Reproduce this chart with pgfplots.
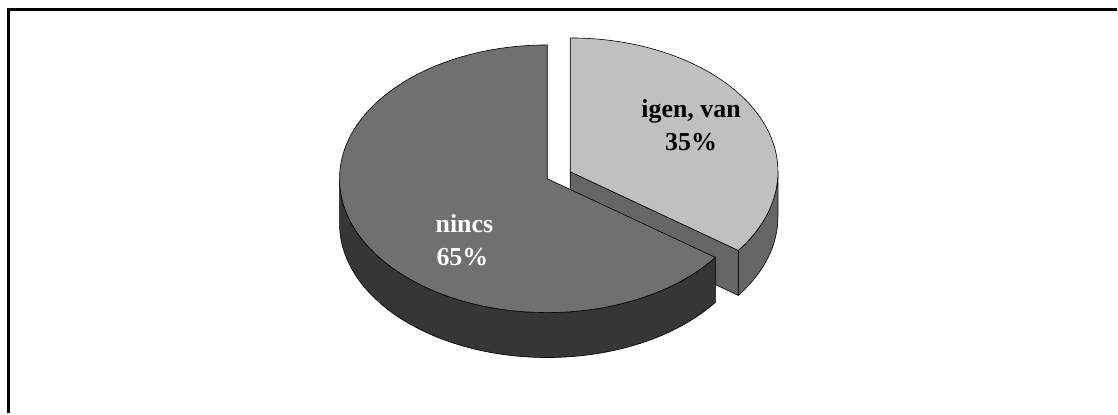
\documentclass[border=0pt]{standalone}
\usepackage{fontspec}
\setmainfont{Liberation Serif}
\usepackage{pgfplots}
\pgfplotsset{compat=1.18}
\usepackage{pgfplotstable}
\definecolor{topMain}{RGB}{112,112,112}
\definecolor{sideMain}{RGB}{54,54,54}
\definecolor{topOut}{RGB}{192,192,192}
\definecolor{sideOut}{RGB}{102,102,102}

% pie data (percent)
\pgfplotstableread{
label value
igen 35
nincs 65
}\piedata

\begin{document}
\begin{tikzpicture}
\pgfplotstablegetelem{0}{value}\of\piedata \let\vOut\pgfplotsretval
% geometry in pixels (y measured upwards)
\def\a{208}\def\b{134}\def\d{45}
\def\cxA{548}\def\cyA{235}   % main slice centre
\def\cxB{571}\def\cyB{242}   % exploded slice centre
\pgfmathsetmacro\cut{90-3.6*\vOut}      % -36
\pgfmathsetmacro\cutM{360+\cut}          % 324
\pgfmathsetmacro\xA{\cxA+\a*cos(\cut)}
\pgfmathsetmacro\yA{\cyA+\b*sin(\cut)}
\pgfmathsetmacro\xB{\cxB+\a*cos(\cut)}
\pgfmathsetmacro\yB{\cyB+\b*sin(\cut)}
\pgfmathsetmacro\yAd{\yA-\d}
\pgfmathsetmacro\yBd{\yB-\d}
\pgfmathsetmacro\cyAd{\cyA-\d}
\pgfmathsetmacro\cyBd{\cyB-\d}
\pgfmathsetmacro\topA{\cyA+\b}
\pgfmathsetmacro\topB{\cyB+\b}
\pgfmathsetmacro\leftA{\cxA-\a}
\pgfmathsetmacro\rightB{\cxB+\a}
\begin{axis}[scale only axis, width=1118bp, height=414bp,
    xmin=0, xmax=1118, ymin=0, ymax=414, hide axis, clip=false]
  \addplot[draw=none, forget plot] coordinates {(0,0) (1118,414)};
  % exploded slice
  \filldraw[fill=sideOut, draw=black, line width=0.6pt]
    (axis cs:\xB,\yB) arc[start angle=\cut, end angle=0, x radius=\a, y radius=\b]
    -- (axis cs:\rightB,\cyBd)
    arc[start angle=0, end angle=\cut, x radius=\a, y radius=\b] -- cycle;
  \filldraw[fill=sideOut, draw=black, line width=0.6pt]
    (axis cs:\cxB,\cyB) -- (axis cs:\xB,\yB) -- (axis cs:\xB,\yBd)
    -- (axis cs:\cxB,\cyBd) -- cycle;
  \filldraw[fill=topOut, draw=black, line width=0.6pt]
    (axis cs:\cxB,\cyB) -- (axis cs:\cxB,\topB)
    arc[start angle=90, end angle=\cut, x radius=\a, y radius=\b] -- cycle;
  % main slice
  \filldraw[fill=sideMain, draw=black, line width=0.6pt]
    (axis cs:\leftA,\cyA) arc[start angle=180, end angle=\cutM, x radius=\a, y radius=\b]
    -- (axis cs:\xA,\yAd)
    arc[start angle=\cutM, end angle=180, x radius=\a, y radius=\b] -- cycle;
  \filldraw[fill=topMain, draw=black, line width=0.6pt]
    (axis cs:\cxA,\cyA) -- (axis cs:\cxA,\topA)
    arc[start angle=90, end angle=\cutM, x radius=\a, y radius=\b] -- cycle;
  % labels
  \node[anchor=base, font=\fontsize{26}{30}\selectfont\bfseries] at (axis cs:692,296) {igen, van};
  \node[anchor=base, font=\fontsize{26}{30}\selectfont\bfseries] at (axis cs:692,263) {35\%};
  \node[anchor=base, text=white, font=\fontsize{26}{30}\selectfont\bfseries] at (axis cs:465,181) {nincs};
  \node[anchor=base, text=white, font=\fontsize{26}{30}\selectfont\bfseries] at (axis cs:463,148) {65\%};
  % frame (top and left only)
  \draw[line width=3bp] (axis cs:8.5,0) -- (axis cs:8.5,404.5) -- (axis cs:1118,404.5);
\end{axis}
\end{tikzpicture}
\end{document}
